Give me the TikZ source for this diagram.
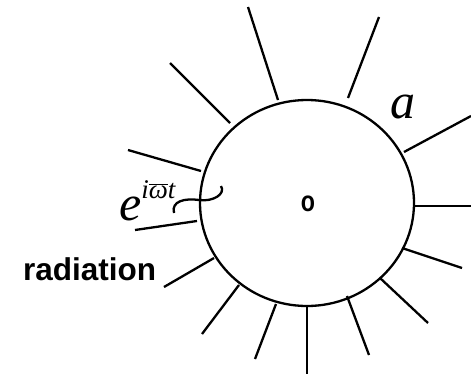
\documentclass[tikz,border=0pt]{standalone}
\usepackage{fontspec}
\setmainfont{Liberation Serif}
\newfontfamily\labelsans{Liberation Sans}
\usetikzlibrary{positioning}
\tikzset{
  ray/.style={line width=2.3pt, line cap=butt},
  disc/.style={line width=2.3pt},
  symlabel/.style={inner sep=0pt, font=\fontsize{50}{50}\selectfont\itshape},
  boldlabel/.style={inner sep=0pt, font=\fontsize{31.5}{31.5}\selectfont\labelsans\bfseries}
}
\begin{document}
\begin{tikzpicture}[x=1pt,y=-1pt]
    \useasboundingbox (0,0) rectangle (471,375);
    \coordinate (c) at (307,203);
    \draw[disc] (c) ellipse [x radius=107, y radius=103];
    \node[inner sep=0pt, xscale=0.8, font=\fontsize{29}{29}\selectfont\labelsans\bfseries] (origin) at (308,204) {o};
    % rays
    \foreach \xa/\ya/\xb/\yb in {278/100/248/7, 348/98/379/17, 230/123/170/63,
        404/152/471/116, 201/171/128/150, 413/206/471/206, 197/221/135/230,
        402/248/462/268, 214/258/164/287, 380/278/428/323, 239/285/202/334,
        276/304/255/359, 307/307/307/374, 347/296/369/355}
      \draw[ray] (\xa,\ya) -- (\xb,\yb);
    \node[symlabel, anchor=base] (radius) at (403,118) {a};
    \node[symlabel, anchor=base west] (phase) at (119,220)
      {e\raisebox{0.44em}{\fontsize{27}{27}\selectfont i$\overline{\hbox{\itshape ω}}$t}};
    \draw[disc] (174,213) .. controls (171,201) and (185,198) .. (199,200)
      .. controls (213,202) and (226,194) .. (221,186);
    \node[boldlabel, anchor=base west] (rad) at (23,280) {radiation};
  \end{tikzpicture}
\end{document}
